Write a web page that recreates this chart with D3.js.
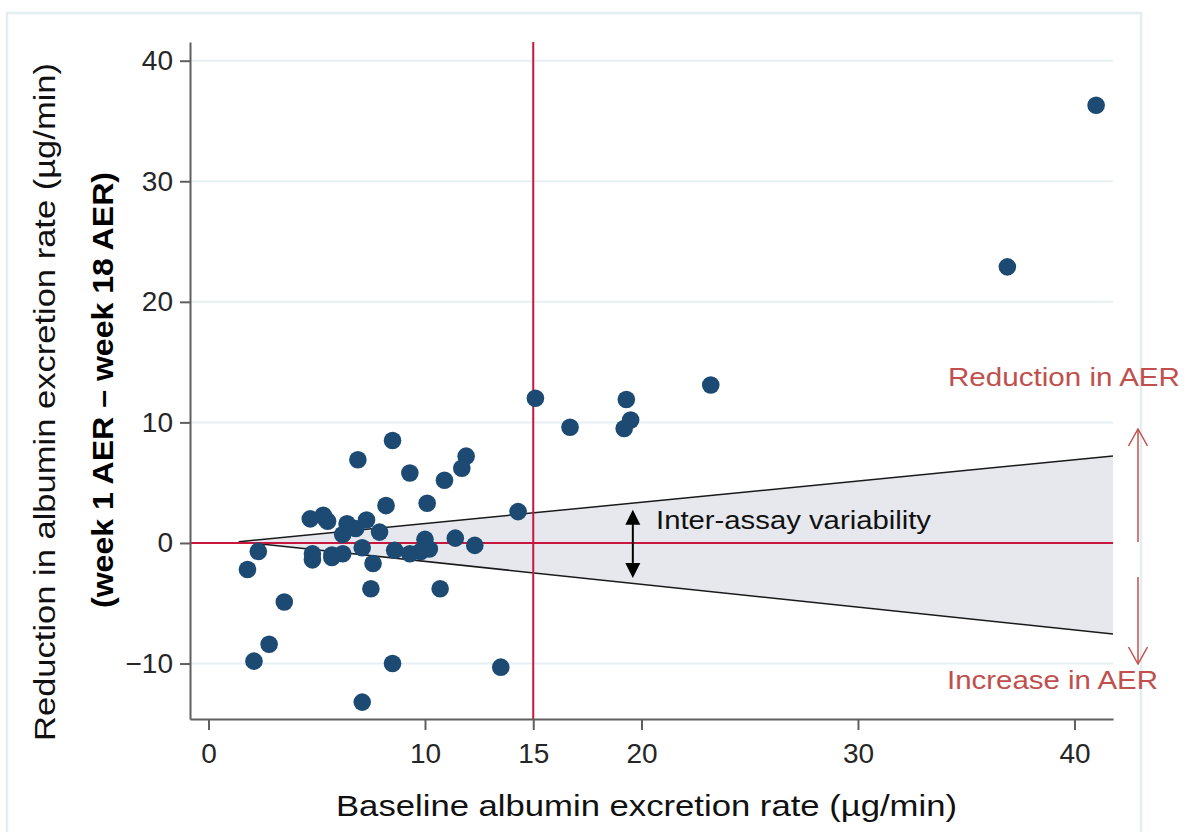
<!DOCTYPE html>
<html>
<head>
<meta charset="utf-8">
<script src="https://cdn.jsdelivr.net/npm/d3@7"></script>
<style>
  html, body { margin: 0; padding: 0; background: #ffffff; }
  svg { display: block; }
  text { font-family: "Liberation Sans", Arial, sans-serif; }
</style>
</head>
<body>
<svg id="chart" width="1188" height="832"></svg>
<script>
// ---- data ----
const baselineAER = [41.0, 36.9, 23.2, 19.3, 19.5, 19.2, 16.7, 15.1, 14.3, 13.5,
  8.5, 6.9, 11.9, 11.7, 9.3, 10.9, 10.1, 8.2,
  4.7, 5.3, 5.5, 5.4, 6.4, 6.8, 7.3, 6.2, 7.9,
  10.0, 11.4, 12.3, 2.3, 1.8, 4.8, 4.8, 5.7, 5.7, 6.2, 7.1, 7.6, 8.6, 9.3, 9.8, 10.2,
  7.5, 10.7, 3.5, 2.8, 2.1, 8.5, 7.1];
const reductionAER = [36.3, 22.9, 13.1, 11.9, 10.2, 9.5, 9.6, 12.0, 2.6, -10.3,
  8.5, 6.9, 7.2, 6.2, 5.8, 5.2, 3.3, 3.1,
  2.0, 2.3, 1.8, 2.0, 1.6, 1.2, 1.9, 0.7, 0.9,
  0.3, 0.4, -0.2, -0.7, -2.2, -0.9, -1.4, -1.0, -1.2, -0.9, -0.4, -1.7, -0.6, -0.9, -0.7, -0.5,
  -3.8, -3.8, -4.9, -8.4, -9.8, -10.0, -13.2];

const xTicks = [0, 10, 15, 20, 30, 40];
const yTicks = [-10, 0, 10, 20, 30, 40];
const gridValues = [-10, 10, 20, 30, 40];

// inter-assay variability band (x, upper, lower)
const bandX = [1.4, 41.78];
const bandUpper = [0.1, 7.21];
const bandLower = [0.1, -7.55];

const thresholdX = 15;       // vertical reference line
const thresholdY = 0;        // horizontal reference line
const variabilityArrowX = 19.6;
const variabilityArrowY = [2.75, -2.9];

const xTitle = "Baseline albumin excretion rate (\u00B5g/min)";
const yTitle1 = "Reduction in albumin excretion rate (\u00B5g/min)";
const yTitle2 = "(week 1 AER \u2013 week 18 AER)";
const bandLabel = "Inter-assay variability";
const upLabel = "Reduction in AER";
const downLabel = "Increase in AER";

// ---- drawing ----
const svg = d3.select("#chart");
const x = d3.scaleLinear().domain([-0.855, 41.78]).range([190, 1113]);
const y = d3.scaleLinear().domain([-14.6, 41.55]).range([719, 42]);

const red = "#c8163f";
const dotColor = "#1c4a73";
const axisColor = "#5f5f5f";
const labelRed = "#c0504d";

// outer frame
svg.append("rect").attr("x", 7).attr("y", 13).attr("width", 1134).attr("height", 830)
  .attr("fill", "#fff").attr("stroke", "#e4eef1").attr("stroke-width", 2.5);

// gridlines
svg.append("g").selectAll("line").data(gridValues).join("line")
  .attr("x1", x.range()[0]).attr("x2", x.range()[1])
  .attr("y1", d => y(d)).attr("y2", d => y(d))
  .attr("stroke", "#e6f0f3").attr("stroke-width", 2);

// band
const bandPts = bandX.map((bx, i) => [bx, bandUpper[i]]).concat(
  bandX.map((bx, i) => [bx, bandLower[i]]).reverse());
svg.append("path")
  .attr("d", d3.line().x(d => x(d[0])).y(d => y(d[1]))(bandPts) + "Z")
  .attr("fill", "#e6e8ee").attr("stroke", "none");
[bandUpper, bandLower].forEach(arr => {
  svg.append("path")
    .attr("d", d3.line().x(d => x(d[0])).y(d => y(d[1]))(bandX.map((bx, i) => [bx, arr[i]])))
    .attr("fill", "none").attr("stroke", "#1a1a1a").attr("stroke-width", 1.5);
});

// reference lines
svg.append("line").attr("x1", x.range()[0]).attr("x2", x.range()[1])
  .attr("y1", y(thresholdY)).attr("y2", y(thresholdY))
  .attr("stroke", red).attr("stroke-width", 2);
svg.append("line").attr("x1", x(thresholdX)).attr("x2", x(thresholdX))
  .attr("y1", y.range()[1]).attr("y2", y.range()[0])
  .attr("stroke", red).attr("stroke-width", 2);

// axes
const yAxis = svg.append("g").attr("transform", `translate(${x.range()[0]},0)`)
  .call(d3.axisLeft(y).tickValues(yTicks).tickSize(10).tickSizeOuter(0).tickPadding(7));
const xAxis = svg.append("g").attr("transform", `translate(0,${y.range()[0]})`)
  .call(d3.axisBottom(x).tickValues(xTicks).tickSize(11).tickSizeOuter(0).tickPadding(13));
[yAxis, xAxis].forEach(g => {
  g.select(".domain").attr("stroke", axisColor).attr("stroke-width", 2);
  g.selectAll(".tick line").attr("stroke", axisColor).attr("stroke-width", 2);
  g.selectAll(".tick text").attr("fill", "#262626")
    .style("font-family", '"Liberation Sans", Arial, sans-serif').style("font-size", "28px");
});

// points
svg.append("g").selectAll("circle").data(baselineAER).join("circle")
  .attr("cx", d => x(d)).attr("cy", (d, i) => y(reductionAER[i]))
  .attr("r", 8.8).attr("fill", dotColor);

// inter-assay double arrow
const ax = x(variabilityArrowX);
const ay1 = y(variabilityArrowY[0]), ay2 = y(variabilityArrowY[1]);
svg.append("line").attr("x1", ax).attr("x2", ax).attr("y1", ay1 + 10).attr("y2", ay2 - 10)
  .attr("stroke", "#000").attr("stroke-width", 2);
svg.append("path").attr("d", `M${ax},${ay1} L${ax - 7.5},${ay1 + 15} L${ax + 7.5},${ay1 + 15} Z`).attr("fill", "#000");
svg.append("path").attr("d", `M${ax},${ay2} L${ax - 7.5},${ay2 - 15} L${ax + 7.5},${ay2 - 15} Z`).attr("fill", "#000");
svg.append("text").attr("x", 656).attr("y", 529).text(bandLabel)
  .attr("font-size", 25).attr("fill", "#111").attr("textLength", 275).attr("lengthAdjust", "spacingAndGlyphs");

// red direction arrows (outside plot)
const rx = 1138;
svg.append("line").attr("x1", rx).attr("x2", rx).attr("y1", y(0) - 1).attr("y2", 429)
  .attr("stroke", labelRed).attr("stroke-width", 1.5);
svg.append("path").attr("d", `M${rx - 9.5},${446} L${rx},${429} L${rx + 9.5},${446}`)
  .attr("fill", "none").attr("stroke", labelRed).attr("stroke-width", 1.5);
svg.append("line").attr("x1", rx).attr("x2", rx).attr("y1", 577).attr("y2", 664)
  .attr("stroke", labelRed).attr("stroke-width", 1.5);
svg.append("path").attr("d", `M${rx - 9.5},${647} L${rx},${664} L${rx + 9.5},${647}`)
  .attr("fill", "none").attr("stroke", labelRed).attr("stroke-width", 1.5);
svg.append("text").attr("x", 948).attr("y", 386).text(upLabel)
  .attr("font-size", 26).attr("fill", labelRed).attr("textLength", 232).attr("lengthAdjust", "spacingAndGlyphs");
svg.append("text").attr("x", 947).attr("y", 689).text(downLabel)
  .attr("font-size", 26).attr("fill", labelRed).attr("textLength", 211).attr("lengthAdjust", "spacingAndGlyphs");

// axis titles
svg.append("text").attr("x", 646.5).attr("y", 816).attr("text-anchor", "middle").text(xTitle)
  .attr("font-size", 30).attr("fill", "#111").attr("textLength", 621).attr("lengthAdjust", "spacingAndGlyphs");
svg.append("text").attr("transform", "translate(55,402) rotate(-90)").attr("text-anchor", "middle").text(yTitle1)
  .attr("font-size", 30).attr("fill", "#111").attr("textLength", 678).attr("lengthAdjust", "spacingAndGlyphs");
svg.append("text").attr("transform", "translate(113,390) rotate(-90)").attr("text-anchor", "middle").text(yTitle2)
  .attr("font-size", 29).attr("font-weight", "bold").attr("fill", "#000").attr("textLength", 436).attr("lengthAdjust", "spacingAndGlyphs");
</script>
</body>
</html>
